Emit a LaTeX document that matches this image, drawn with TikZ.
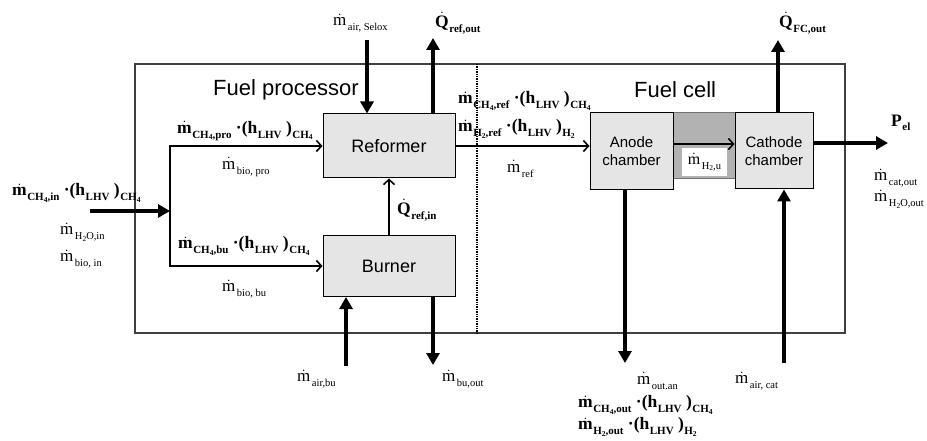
\documentclass[tikz,border=0pt]{standalone}
\usepackage{amsmath}
\usepackage{fontspec}
\setmainfont{Liberation Serif}
\newfontfamily\arialfont{Liberation Sans}
\usepackage{tikz}
\usetikzlibrary{arrows.meta,positioning,calc}
\newcommand{\dt}[1]{\ensuremath{\dot{\text{#1}}}}
\newcommand{\lo}[1]{\hspace{1.5pt}\raisebox{-0.6ex}{\fontsize{10.5}{10.5}\selectfont #1}}
\newcommand{\blo}[1]{\hspace{0.5pt}\raisebox{-0.55ex}{\fontsize{11}{11}\selectfont #1}}
\newcommand{\llo}[1]{\raisebox{-0.35ex}{\fontsize{7.5}{7.5}\selectfont #1}}
\tikzset{
  frame/.style={draw=black!75, line width=1.3pt, inner sep=0pt},
  unit/.style={draw=black, fill=black!10, line width=1pt, align=center, inner sep=2pt, font=\arialfont\fontsize{18}{20}\selectfont},
  chamber/.style={unit, font=\arialfont\fontsize{15}{18}\selectfont},
  membrane/.style={draw=black!55, fill=black!30, line width=1pt, inner sep=0pt},
  title/.style={anchor=west, inner sep=0pt, font=\arialfont\fontsize{22}{24}\selectfont},
  lbl/.style={anchor=west, inner sep=0pt, font=\fontsize{17}{19}\selectfont},
  blbl/.style={anchor=west, inner sep=0pt, font=\bfseries\fontsize{17.5}{19}\selectfont},
  flow/.style={-{Straight Barb[length=5pt,width=11pt]}, line width=1.6pt},
  stream/.style={-{Triangle[length=12pt,width=13pt]}, line width=3.8pt}
}
\begin{document}
\begin{tikzpicture}[x=1pt, y=-1pt]
\useasboundingbox (0,0) rectangle (927,441);
% system boundary
\node[frame, minimum width=710pt, minimum height=269pt] (frame) at (490,198.5) {};
\coordinate (divtop) at (477,64);
\coordinate (divbot) at (477,333);
\draw[densely dotted, line width=1.4pt] (divtop) -- (divbot);
\node[title] (fp) at (213,90) {Fuel processor};
\node[title] (fc) at (634,90) {Fuel cell};
% units
\node[unit, minimum width=132pt, minimum height=64pt] (reformer) at (389,146) {Reformer};
\node[unit, minimum width=132pt, minimum height=61pt] (burner) at (389,266) {Burner};
\node[membrane, minimum width=64pt, minimum height=66pt] (membrane) at (704,146) {};
\node[chamber, minimum width=83pt, minimum height=77pt] (anode) at (631.5,151.5) {Anode\\chamber};
\node[chamber, minimum width=78pt, minimum height=76pt] (cathode) at (774,151) {Cathode\\chamber};
\node[fill=white, inner sep=0pt, minimum width=45pt, minimum height=28pt, font=\fontsize{16}{18}\selectfont] (hu) at (704.5,162) {\dt{m}\lo{H\llo{2},u}};
% free ends
\coordinate (in) at (90,211);
\coordinate (split) at (170,211);
\coordinate (selox) at (367,40);
\coordinate (qout) at (433,38);
\coordinate (airbu) at (346,366);
\coordinate (buout) at (433,365);
\coordinate (anout) at (625,363);
\coordinate (aircat) at (784,363);
\coordinate (qfc) at (778,40);
\coordinate (pel) at (888,143);
% connectors
\draw[stream] (in) -- (split);
\draw[flow] (split) |- (reformer);
\draw[flow] (split) |- (burner);
\draw[stream] (selox) -- (selox |- reformer.north);
\draw[stream] (reformer.north -| qout) -- (qout);
\draw[flow] (burner) -- (reformer);
\draw[flow] (reformer.east) -- (reformer.east -| anode.west);
\draw[flow] ([yshift=7.5pt]anode.east) -- ([yshift=7.5pt]anode.east -| cathode.west);
\draw[stream] (airbu) -- (airbu |- burner.south);
\draw[stream] (burner.south -| buout) -- (buout);
\draw[stream] (anode.south -| anout) -- (anout);
\draw[stream] (aircat) -- (aircat |- cathode.south);
\draw[stream] (cathode.north -| qfc) -- (qfc);
\draw[stream] (cathode.east |- pel) -- (pel);
% stream labels
\node[blbl] (lchin) at (12,193) {\dt{m}\blo{CH\llo{4},in} ·(h\blo{LHV} )\blo{CH\llo{4}}};
\node[lbl] (lh2oin) at (60,232) {\dt{m}\lo{H\llo{2}O,in}};
\node[lbl] (lbioin) at (60,259) {\dt{m}\lo{bio, in}};
\node[blbl] (lchpro) at (177,131) {\dt{m}\blo{CH\llo{4},pro} ·(h\blo{LHV} )\blo{CH\llo{4}}};
\node[lbl] (lbiopro) at (222,167) {\dt{m}\lo{bio, pro}};
\node[blbl] (lchbu) at (178,246) {\dt{m}\blo{CH\llo{4},bu} ·(h\blo{LHV} )\blo{CH\llo{4}}};
\node[lbl] (lbiobu) at (222,289) {\dt{m}\lo{bio, bu}};
\node[lbl] (lselox) at (333,23) {\dt{m}\lo{air, Selox}};
\node[blbl] (lqout) at (435,23) {\dt{Q}\blo{ref,out}};
\node[blbl] (lqin) at (397,210) {\dt{Q}\blo{ref,in}};
\node[blbl] (lchref) at (458,101) {\dt{m}\blo{CH\llo{4},ref} ·(h\blo{LHV} )\blo{CH\llo{4}}};
\node[blbl] (lhref) at (458,129) {\dt{m}\blo{H\llo{2},ref} ·(h\blo{LHV} )\blo{H\llo{2}}};
\node[lbl] (lref) at (507,169) {\dt{m}\lo{ref}};
\node[lbl] (lairbu) at (297,379) {\dt{m}\lo{air,bu}};
\node[lbl] (lbuout) at (442,379) {\dt{m}\lo{bu,out}};
\node[lbl] (loutan) at (637,381) {\dt{m}\lo{out.an}};
\node[lbl] (laircat) at (735,381) {\dt{m}\lo{air, cat}};
\node[blbl] (lchout) at (578,405) {\dt{m}\blo{CH\llo{4},out} ·(h\blo{LHV} )\blo{CH\llo{4}}};
\node[blbl] (lhout) at (578,427) {\dt{m}\blo{H\llo{2},out} ·(h\blo{LHV} )\blo{H\llo{2}}};
\node[blbl] (lqfc) at (779,23) {\dt{Q}\blo{FC,out}};
\node[blbl] (lpel) at (891,123) {P\blo{el}};
\node[lbl] (lcatout) at (874,178) {\dt{m}\lo{cat,out}};
\node[lbl] (lh2oout) at (874,199) {\dt{m}\lo{H\llo{2}O,out}};
\end{tikzpicture}
\end{document}
